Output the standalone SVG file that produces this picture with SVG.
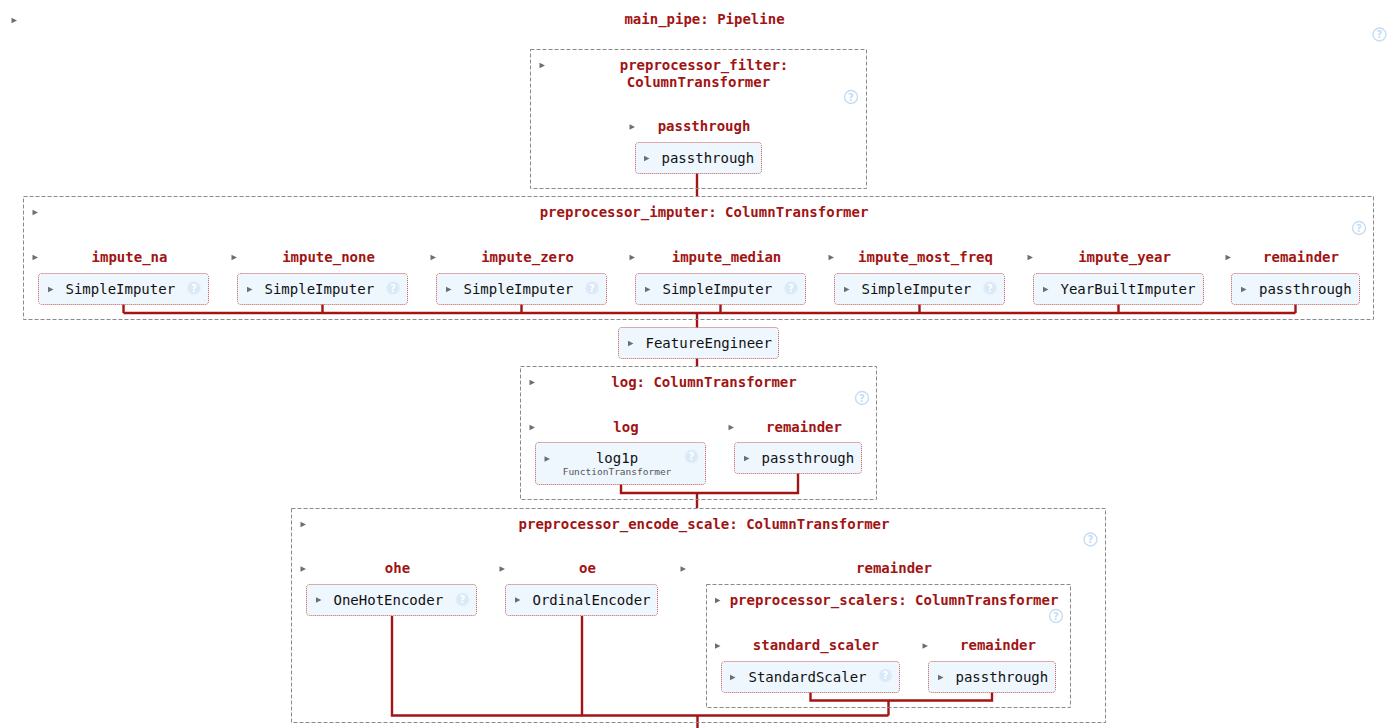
<svg xmlns="http://www.w3.org/2000/svg" xmlns:xlink="http://www.w3.org/1999/xlink" width="1395" height="728" viewBox="0 0 1395 728">
  <style>
    .ttl { font: bold 14px "DejaVu Sans Mono", "Liberation Mono", monospace; fill: #a11414; text-anchor: middle; }
    .est { font: 14px "DejaVu Sans Mono", "Liberation Mono", monospace; fill: #111; }
    .sub { font: 9.5px "DejaVu Sans Mono", "Liberation Mono", monospace; fill: #555; text-anchor: middle; }
    .box { fill: #eef6fe; stroke: #c45858; stroke-width: 1; stroke-dasharray: 1 1; }
    .ctr { fill: none; stroke: #8a8a8a; stroke-width: 1; stroke-dasharray: 4 2; }
    .wire { fill: none; stroke: #a31414; stroke-width: 2.4; }
    .tri { fill: #6e6e6e; }
    .hc { fill: #fff; stroke: #c4ddf4; stroke-width: 1.4; }
    .hq { font: bold 10px "DejaVu Sans", sans-serif; fill: #c4ddf4; text-anchor: middle; }
    .hc2 { fill: #d8e9f8; stroke: #e4f0fb; stroke-width: 1.2; }
    .hq2 { font: bold 10px "DejaVu Sans", sans-serif; fill: #fff; text-anchor: middle; }
  </style>
  <defs>
    <path id="tri" class="tri" d="M0,-2.7 L5.5,0 L0,2.7 Z"/>
    <!-- help badge for containers -->
    <g id="help">
      <circle class="hc" cx="0" cy="0" r="6.5"/>
      <text class="hq" x="0" y="3.6">?</text>
    </g>
    <!-- help badge inside estimator boxes -->
    <g id="help2">
      <circle class="hc2" cx="0" cy="0" r="6.5"/>
      <text class="hq2" x="0" y="3.6">?</text>
    </g>
  </defs>

  <!-- connectors -->
  <g id="connectors">
    <path class="wire" d="M697,173 V196"/>
    <path class="wire" d="M123.5,304 V313 M322.5,304 V313 M521.5,304 V313 M720.5,304 V313 M919.5,304 V313 M1118.5,304 V313 M1295.5,304 V313 M123.5,313 H1295.5"/>
    <path class="wire" d="M697,313 V328"/>
    <path class="wire" d="M697,358 V366"/>
    <path class="wire" d="M621,484 V493 H798 V473 M697,493 V508"/>
    <path class="wire" d="M810.5,692 V700.5 H992 V692 M888.5,700.5 V715.5"/>
    <path class="wire" d="M392,616 V715.5 H888.5 M582,616 V715.5 M697.5,715.5 V728"/>
  </g>

  <!-- main pipeline -->
  <g id="main_pipe">
    <use xlink:href="#tri" x="11.5" y="20.5"/>
    <text class="ttl" x="704.5" y="24">main_pipe: Pipeline</text>
    <use xlink:href="#help" x="1379.5" y="34.5"/>
  </g>

  <!-- preprocessor_filter -->
  <g id="preprocessor_filter">
    <rect class="ctr" x="530.5" y="49.5" width="336" height="139"/>
    <use xlink:href="#tri" x="539.5" y="65.5"/>
    <text class="ttl" x="704" y="70">preprocessor_filter:</text>
    <text class="ttl" x="698.5" y="87">ColumnTransformer</text>
    <use xlink:href="#help" x="851" y="97"/>
    <use xlink:href="#tri" x="629.5" y="127"/>
    <text class="ttl" x="704" y="131">passthrough</text>
  </g>
  <g id="filter_passthrough">
    <rect class="box" x="635.5" y="142.5" width="126" height="31" rx="3"/>
    <use xlink:href="#tri" x="644" y="158.5"/>
    <text class="est" x="661.5" y="163">passthrough</text>
  </g>

  <!-- preprocessor_imputer -->
  <g id="preprocessor_imputer">
    <rect class="ctr" x="23.5" y="196.5" width="1350" height="123"/>
    <use xlink:href="#tri" x="32.5" y="212.5"/>
    <text class="ttl" x="704" y="217">preprocessor_imputer: ColumnTransformer</text>
    <use xlink:href="#help" x="1359" y="228"/>
  </g>
  <g id="impute_na">
    <use xlink:href="#tri" x="32.5" y="257.5"/>
    <text class="ttl" x="129.5" y="262">impute_na</text>
    <rect class="box" x="38.5" y="273.5" width="170" height="31" rx="3"/>
    <use xlink:href="#tri" x="48" y="289.5"/>
    <text class="est" x="65.5" y="294">SimpleImputer</text>
    <use xlink:href="#help2" x="194" y="288"/>
  </g>
  <g id="impute_none">
    <use xlink:href="#tri" x="231.5" y="257.5"/>
    <text class="ttl" x="328.5" y="262">impute_none</text>
    <rect class="box" x="237.5" y="273.5" width="170" height="31" rx="3"/>
    <use xlink:href="#tri" x="247" y="289.5"/>
    <text class="est" x="264.5" y="294">SimpleImputer</text>
    <use xlink:href="#help2" x="393" y="288"/>
  </g>
  <g id="impute_zero">
    <use xlink:href="#tri" x="430.5" y="257.5"/>
    <text class="ttl" x="527.5" y="262">impute_zero</text>
    <rect class="box" x="436.5" y="273.5" width="170" height="31" rx="3"/>
    <use xlink:href="#tri" x="446" y="289.5"/>
    <text class="est" x="463.5" y="294">SimpleImputer</text>
    <use xlink:href="#help2" x="592" y="288"/>
  </g>
  <g id="impute_median">
    <use xlink:href="#tri" x="629.5" y="257.5"/>
    <text class="ttl" x="726.5" y="262">impute_median</text>
    <rect class="box" x="635.5" y="273.5" width="170" height="31" rx="3"/>
    <use xlink:href="#tri" x="645" y="289.5"/>
    <text class="est" x="662.5" y="294">SimpleImputer</text>
    <use xlink:href="#help2" x="791" y="288"/>
  </g>
  <g id="impute_most_freq">
    <use xlink:href="#tri" x="828.5" y="257.5"/>
    <text class="ttl" x="925.5" y="262">impute_most_freq</text>
    <rect class="box" x="834.5" y="273.5" width="170" height="31" rx="3"/>
    <use xlink:href="#tri" x="844" y="289.5"/>
    <text class="est" x="861.5" y="294">SimpleImputer</text>
    <use xlink:href="#help2" x="990" y="288"/>
  </g>
  <g id="impute_year">
    <use xlink:href="#tri" x="1027.5" y="257.5"/>
    <text class="ttl" x="1124.5" y="262">impute_year</text>
    <rect class="box" x="1033.5" y="273.5" width="170" height="31" rx="3"/>
    <use xlink:href="#tri" x="1043" y="289.5"/>
    <text class="est" x="1060.5" y="294">YearBuiltImputer</text>
  </g>
  <g id="imputer_remainder">
    <use xlink:href="#tri" x="1225.5" y="257.5"/>
    <text class="ttl" x="1301" y="262">remainder</text>
    <rect class="box" x="1231.5" y="273.5" width="128" height="31" rx="3"/>
    <use xlink:href="#tri" x="1241" y="289.5"/>
    <text class="est" x="1259" y="294">passthrough</text>
  </g>

  <!-- feature engineering -->
  <g id="feature_engineer">
    <rect class="box" x="618.5" y="327.5" width="160" height="31" rx="3"/>
    <use xlink:href="#tri" x="628" y="343.5"/>
    <text class="est" x="645.5" y="348">FeatureEngineer</text>
  </g>

  <!-- log transformer -->
  <g id="log">
    <rect class="ctr" x="520.5" y="366.5" width="356" height="133"/>
    <use xlink:href="#tri" x="529.5" y="382.5"/>
    <text class="ttl" x="704" y="387">log: ColumnTransformer</text>
    <use xlink:href="#help" x="862" y="398"/>
  </g>
  <g id="log_log1p">
    <use xlink:href="#tri" x="529.5" y="427.5"/>
    <text class="ttl" x="626" y="432">log</text>
    <rect class="box" x="535.5" y="442.5" width="170" height="42" rx="3"/>
    <use xlink:href="#tri" x="544.5" y="459"/>
    <text class="est" x="617" y="463" text-anchor="middle">log1p</text>
    <text class="sub" x="617" y="475">FunctionTransformer</text>
    <use xlink:href="#help2" x="691.5" y="456.5"/>
  </g>
  <g id="log_remainder">
    <use xlink:href="#tri" x="728.5" y="427.5"/>
    <text class="ttl" x="804" y="432">remainder</text>
    <rect class="box" x="734.5" y="442.5" width="127" height="31" rx="3"/>
    <use xlink:href="#tri" x="744" y="458.5"/>
    <text class="est" x="761.5" y="463">passthrough</text>
  </g>

  <!-- encoding and scaling -->
  <g id="preprocessor_encode_scale">
    <rect class="ctr" x="291.5" y="508.5" width="814" height="214"/>
    <use xlink:href="#tri" x="300.5" y="524.5"/>
    <text class="ttl" x="704" y="529">preprocessor_encode_scale: ColumnTransformer</text>
    <use xlink:href="#help" x="1090.5" y="539.5"/>
    <use xlink:href="#tri" x="680.5" y="569"/>
    <text class="ttl" x="894" y="573">remainder</text>
  </g>
  <g id="ohe">
    <use xlink:href="#tri" x="300.5" y="569"/>
    <text class="ttl" x="397.5" y="573">ohe</text>
    <rect class="box" x="306.5" y="584.5" width="170" height="31" rx="3"/>
    <use xlink:href="#tri" x="316" y="600"/>
    <text class="est" x="333.5" y="605">OneHotEncoder</text>
    <use xlink:href="#help2" x="462.5" y="599.5"/>
  </g>
  <g id="oe">
    <use xlink:href="#tri" x="499.5" y="569"/>
    <text class="ttl" x="587.5" y="573">oe</text>
    <rect class="box" x="505.5" y="584.5" width="152" height="31" rx="3"/>
    <use xlink:href="#tri" x="515" y="600"/>
    <text class="est" x="532.5" y="605">OrdinalEncoder</text>
  </g>

  <!-- nested scalers -->
  <g id="preprocessor_scalers">
    <rect class="ctr" x="706.5" y="584.5" width="364" height="123"/>
    <use xlink:href="#tri" x="715" y="600.5"/>
    <text class="ttl" x="894" y="605">preprocessor_scalers: ColumnTransformer</text>
    <use xlink:href="#help" x="1056" y="616"/>
  </g>
  <g id="standard_scaler">
    <use xlink:href="#tri" x="715" y="646"/>
    <text class="ttl" x="816" y="650">standard_scaler</text>
    <rect class="box" x="721.5" y="661.5" width="178" height="31" rx="3"/>
    <use xlink:href="#tri" x="730" y="677.5"/>
    <text class="est" x="748.5" y="682">StandardScaler</text>
    <use xlink:href="#help2" x="885.5" y="675.5"/>
  </g>
  <g id="scalers_remainder">
    <use xlink:href="#tri" x="922.5" y="646"/>
    <text class="ttl" x="998" y="650">remainder</text>
    <rect class="box" x="928.5" y="661.5" width="127" height="31" rx="3"/>
    <use xlink:href="#tri" x="938" y="677.5"/>
    <text class="est" x="955.5" y="682">passthrough</text>
  </g>
</svg>
